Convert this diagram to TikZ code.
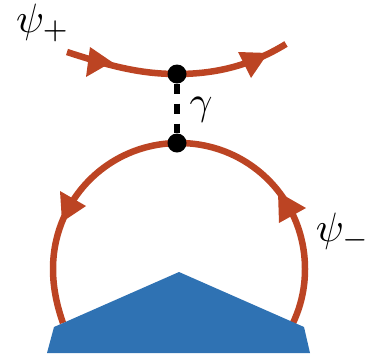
\documentclass[tikz,border=0pt]{standalone}
\definecolor{fermion}{HTML}{BC4423}
\definecolor{bluecap}{HTML}{2F72B3}
\tikzset{
  fline/.style={draw=fermion,line width=6.5pt},
  head/.style={fill=fermion,draw=none},
  vertexdot/.style={circle,fill=black,inner sep=0pt,minimum size=19pt},
  lab/.style={inner sep=0pt,text=black}
}
\begin{document}
\begin{tikzpicture}[x=1pt,y=-1pt]
\useasboundingbox (0,0) rectangle (369,360);
\coordinate (s) at (67,52);
\coordinate (e) at (286,44);
\coordinate (cl) at (63,323);
\coordinate (cr) at (293,323);
\draw[fline] (s) .. controls (110,66) and (140,74) .. (177,74) .. controls (215,74) and (250,66) .. (e);
\draw[fline] (cr) .. controls (301,306) and (305,288) .. (305,269) .. controls (305,199) and (249,143) .. (179,143) .. controls (109,143) and (53,199) .. (53,269) .. controls (53,288) and (57,306) .. (cl);
\fill[bluecap] (47,353) -- (54,327) -- (179,272) -- (304,327) -- (310,353) -- cycle;
\fill[head] (90,47) -- (112,62) -- (86,77) -- cycle;
\fill[head] (238,52) -- (268,53) -- (251,78) -- cycle;
\fill[head] (60,191) -- (86,206) -- (62,222) -- cycle;
\fill[head] (279,223) -- (306,208) -- (278,192) -- cycle;
\node[vertexdot] (a) at (177,74) {};
\node[vertexdot] (b) at (177,143) {};
\draw[black,line width=6pt,dash pattern=on 10pt off 10pt] (a) -- (b);
\node[lab] (p) at (43,23) {\scalebox{4.1}{$\psi_+$}};
\node[lab] (g) at (201,110) {\scalebox{4}{$\gamma$}};
\node[lab] (m) at (343,232) {\scalebox{4.1}{$\psi_-$}};
\end{tikzpicture}
\end{document}
